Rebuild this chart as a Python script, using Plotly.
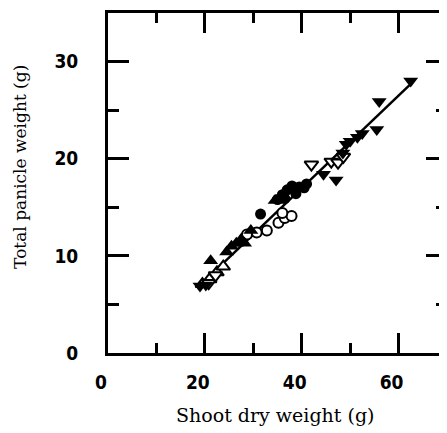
import plotly.graph_objects as go

# ---- data ----
filled_circle_x = [31.5, 35.0, 36.0, 37.0, 38.0, 38.8, 39.5, 40.5, 36.5, 41.0]
filled_circle_y = [14.3, 15.8, 16.3, 16.8, 17.2, 16.4, 17.1, 17.0, 15.9, 17.4]

open_circle_x = [28.7, 30.7, 32.8, 35.2, 36.5, 37.9, 36.0]
open_circle_y = [12.2, 12.4, 12.6, 13.4, 13.9, 14.1, 14.4]

filled_up_x = [21.2, 24.5, 25.5, 26.5, 27.5, 28.2, 29.5, 34.5]
filled_up_y = [9.5, 10.4, 11.0, 11.3, 11.7, 11.3, 12.6, 15.7]

open_up_x = [19.5, 21.0, 22.5, 23.8]
open_up_y = [7.1, 7.6, 8.3, 8.9]

filled_down_x = [19.0, 20.2, 44.5, 47.1, 50.0, 51.5, 52.5, 55.5, 56.0, 62.5, 49.2, 48.5]
filled_down_y = [6.9, 7.0, 18.4, 17.8, 21.8, 22.2, 22.6, 23.0, 25.9, 28.0, 21.5, 20.6]

open_down_x = [20.8, 22.2, 42.0, 46.1, 47.5, 48.6]
open_down_y = [7.2, 8.0, 19.4, 19.7, 19.6, 20.2]

fit_slope = 0.476
fit_intercept = -2.07
fit_x = [18.5, 62.8]
fit_y = [fit_slope * v + fit_intercept for v in fit_x]

x_ticks = [0, 20, 40, 60]
y_ticks = [0, 10, 20, 30]

fig = go.Figure()

fig.add_trace(go.Scatter(x=fit_x, y=fit_y, mode="lines",
                         line=dict(color="black", width=2.5), showlegend=False))

def add(xs, ys, symbol, size, filled):
    fig.add_trace(go.Scatter(
        x=xs, y=ys, mode="markers", showlegend=False,
        marker=dict(symbol=symbol, size=size,
                    color="black" if filled else "white",
                    line=dict(color="black", width=0 if filled else 2))))

add(open_circle_x, open_circle_y, "circle", 10, False)
add(open_up_x, open_up_y, "triangle-up", 12, False)
add(open_down_x, open_down_y, "triangle-down", 12, False)
add(filled_circle_x, filled_circle_y, "circle", 11, True)
add(filled_up_x, filled_up_y, "triangle-up", 13, True)
add(filled_down_x, filled_down_y, "triangle-down", 13, True)

tick_font = dict(family="DejaVu Sans Condensed, Liberation Sans Narrow, DejaVu Sans",
                 size=19, color="black", weight="bold")

fig.update_layout(
    width=442, height=425, autosize=False,
    margin=dict(l=100, r=0, t=5, b=80),
    plot_bgcolor="white", paper_bgcolor="white",
    xaxis=dict(range=[0, 70], showline=True, linecolor="black", linewidth=3,
               mirror="ticks", ticks="inside", ticklen=20, tickwidth=3,
               tickcolor="black", tickvals=x_ticks, ticktext=[str(v) for v in x_ticks],
               minor=dict(ticks="inside", dtick=10, ticklen=10, tickwidth=3,
                          tickcolor="black", showgrid=False),
               showgrid=False, zeroline=False, tickfont=tick_font,
               ticklabelshift=-7, ticklabelstandoff=10),
    yaxis=dict(range=[0, 35], showline=True, linecolor="black", linewidth=3,
               mirror="ticks", ticks="inside", ticklen=21, tickwidth=3,
               tickcolor="black",
               tickvals=y_ticks, ticktext=[str(v) for v in y_ticks],
               minor=dict(ticks="inside", dtick=5, ticklen=11, tickwidth=3,
                          tickcolor="black", showgrid=False),
               showgrid=False, zeroline=False, tickfont=tick_font,
               ticklabelstandoff=23),
    annotations=[
        dict(text="Shoot dry weight (g)", xref="paper", yref="paper",
             x=0.493, y=-0.182, xanchor="center", yanchor="middle",
             showarrow=False,
             font=dict(family="DejaVu Serif, Liberation Serif", size=19, color="black")),
        dict(text="Total panicle weight (g)", xref="paper", yref="paper",
             x=-0.26, y=0.547, xanchor="center", yanchor="middle",
             textangle=-90, showarrow=False,
             font=dict(family="DejaVu Serif, Liberation Serif", size=17, color="black")),
    ],
)

fig.write_html("out.html")
